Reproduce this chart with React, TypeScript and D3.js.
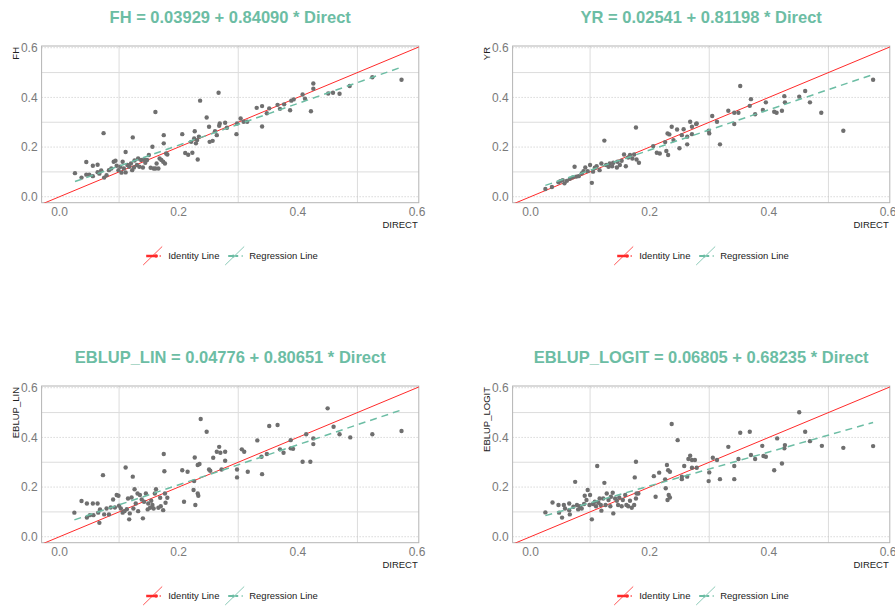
import React from 'react';
import * as d3 from 'd3';

// Direct vs model estimates
const fhPoints: [number, number][] = [
  [0.026, 0.095], [0.037, 0.077], [0.045, 0.140], [0.045, 0.089], [0.050, 0.089], [0.056, 0.125],
  [0.056, 0.083], [0.064, 0.129], [0.064, 0.099], [0.067, 0.093], [0.070, 0.106], [0.074, 0.256],
  [0.075, 0.077], [0.079, 0.087], [0.083, 0.107], [0.087, 0.114], [0.091, 0.141], [0.094, 0.145],
  [0.096, 0.125], [0.099, 0.107], [0.102, 0.121], [0.104, 0.097], [0.106, 0.141], [0.108, 0.114],
  [0.111, 0.180], [0.111, 0.098], [0.114, 0.128], [0.117, 0.121], [0.120, 0.134], [0.122, 0.107],
  [0.123, 0.239], [0.125, 0.118], [0.126, 0.146], [0.130, 0.128], [0.132, 0.154], [0.134, 0.121],
  [0.137, 0.148], [0.140, 0.118], [0.142, 0.150], [0.144, 0.137], [0.147, 0.148], [0.150, 0.168],
  [0.153, 0.117], [0.156, 0.201], [0.158, 0.114], [0.161, 0.341], [0.161, 0.114], [0.163, 0.134],
  [0.166, 0.114], [0.168, 0.154], [0.171, 0.148], [0.174, 0.141], [0.175, 0.248], [0.175, 0.215],
  [0.177, 0.134], [0.179, 0.174], [0.181, 0.170], [0.206, 0.252], [0.211, 0.176], [0.216, 0.169],
  [0.221, 0.221], [0.223, 0.177], [0.226, 0.235], [0.227, 0.264], [0.229, 0.215], [0.231, 0.228],
  [0.232, 0.150], [0.234, 0.242], [0.236, 0.387], [0.247, 0.319], [0.251, 0.282], [0.252, 0.221],
  [0.257, 0.225], [0.261, 0.264], [0.264, 0.248], [0.267, 0.419], [0.268, 0.286], [0.269, 0.295],
  [0.278, 0.298], [0.281, 0.278], [0.297, 0.252], [0.298, 0.295], [0.304, 0.315], [0.309, 0.302],
  [0.315, 0.302], [0.331, 0.358], [0.340, 0.365], [0.340, 0.283], [0.348, 0.336], [0.352, 0.356],
  [0.366, 0.370], [0.370, 0.354], [0.377, 0.372], [0.387, 0.348], [0.389, 0.387], [0.393, 0.392],
  [0.408, 0.412], [0.412, 0.395], [0.422, 0.344], [0.426, 0.456], [0.426, 0.435], [0.451, 0.416],
  [0.459, 0.419], [0.470, 0.415], [0.487, 0.446], [0.525, 0.481], [0.574, 0.471],
];

const yrPoints: [number, number][] = [
  [0.025, 0.031], [0.036, 0.039], [0.047, 0.058], [0.050, 0.063], [0.054, 0.067], [0.057, 0.054],
  [0.061, 0.064], [0.066, 0.072], [0.071, 0.078], [0.074, 0.121], [0.077, 0.081], [0.081, 0.083],
  [0.086, 0.094], [0.089, 0.103], [0.092, 0.118], [0.096, 0.103], [0.100, 0.128], [0.103, 0.056],
  [0.105, 0.101], [0.108, 0.117], [0.111, 0.123], [0.116, 0.107], [0.119, 0.134], [0.124, 0.226],
  [0.127, 0.128], [0.131, 0.121], [0.133, 0.134], [0.137, 0.123], [0.139, 0.137], [0.145, 0.118],
  [0.146, 0.141], [0.150, 0.128], [0.153, 0.145], [0.157, 0.170], [0.160, 0.123], [0.164, 0.158],
  [0.167, 0.168], [0.171, 0.154], [0.174, 0.170], [0.177, 0.279], [0.178, 0.150], [0.182, 0.137],
  [0.206, 0.204], [0.212, 0.177], [0.217, 0.174], [0.226, 0.220], [0.228, 0.184], [0.231, 0.168],
  [0.230, 0.255], [0.233, 0.251], [0.237, 0.282], [0.240, 0.228], [0.246, 0.271], [0.250, 0.195],
  [0.254, 0.248], [0.257, 0.272], [0.263, 0.242], [0.263, 0.211], [0.268, 0.302], [0.271, 0.282],
  [0.271, 0.252], [0.278, 0.293], [0.279, 0.295], [0.299, 0.266], [0.300, 0.255], [0.305, 0.325],
  [0.313, 0.302], [0.318, 0.211], [0.332, 0.346], [0.342, 0.338], [0.342, 0.293], [0.349, 0.338],
  [0.352, 0.446], [0.368, 0.366], [0.370, 0.393], [0.377, 0.332], [0.390, 0.349], [0.395, 0.380],
  [0.409, 0.342], [0.413, 0.338], [0.422, 0.346], [0.426, 0.405], [0.427, 0.380], [0.451, 0.403],
  [0.461, 0.426], [0.469, 0.380], [0.488, 0.338], [0.525, 0.266], [0.575, 0.471],
];

const linPoints: [number, number][] = [
  [0.025, 0.097], [0.037, 0.144], [0.046, 0.134], [0.046, 0.077], [0.051, 0.087], [0.056, 0.134],
  [0.057, 0.087], [0.064, 0.134], [0.065, 0.097], [0.067, 0.056], [0.068, 0.110], [0.073, 0.248],
  [0.075, 0.090], [0.079, 0.114], [0.083, 0.090], [0.086, 0.118], [0.090, 0.150], [0.093, 0.118],
  [0.096, 0.168], [0.099, 0.165], [0.100, 0.125], [0.103, 0.114], [0.106, 0.097], [0.109, 0.103],
  [0.111, 0.279], [0.113, 0.111], [0.115, 0.154], [0.117, 0.070], [0.118, 0.094], [0.121, 0.158],
  [0.123, 0.242], [0.124, 0.114], [0.126, 0.191], [0.128, 0.134], [0.131, 0.174], [0.132, 0.103],
  [0.135, 0.168], [0.138, 0.150], [0.140, 0.074], [0.142, 0.141], [0.145, 0.174], [0.148, 0.110],
  [0.149, 0.134], [0.152, 0.117], [0.154, 0.145], [0.156, 0.128], [0.158, 0.114], [0.160, 0.174],
  [0.162, 0.191], [0.166, 0.117], [0.169, 0.157], [0.170, 0.123], [0.174, 0.107], [0.175, 0.333],
  [0.176, 0.264], [0.177, 0.174], [0.178, 0.137], [0.181, 0.157], [0.206, 0.268], [0.209, 0.141],
  [0.215, 0.262], [0.225, 0.188], [0.226, 0.224], [0.227, 0.319], [0.228, 0.128], [0.232, 0.174],
  [0.233, 0.165], [0.232, 0.289], [0.235, 0.293], [0.237, 0.474], [0.247, 0.423], [0.251, 0.271],
  [0.253, 0.266], [0.258, 0.318], [0.264, 0.342], [0.268, 0.362], [0.270, 0.338], [0.272, 0.271],
  [0.278, 0.342], [0.278, 0.306], [0.298, 0.271], [0.298, 0.239], [0.306, 0.352], [0.310, 0.342],
  [0.316, 0.262], [0.332, 0.388], [0.339, 0.322], [0.340, 0.252], [0.348, 0.333], [0.352, 0.446],
  [0.366, 0.450], [0.370, 0.352], [0.376, 0.338], [0.388, 0.389], [0.388, 0.356], [0.392, 0.354],
  [0.408, 0.302], [0.414, 0.413], [0.421, 0.302], [0.426, 0.396], [0.426, 0.373], [0.450, 0.517],
  [0.460, 0.443], [0.470, 0.413], [0.488, 0.400], [0.525, 0.413], [0.574, 0.426],
];

const logitPoints: [number, number][] = [
  [0.025, 0.098], [0.037, 0.138], [0.047, 0.128], [0.048, 0.097], [0.053, 0.077], [0.056, 0.128],
  [0.058, 0.114], [0.065, 0.134], [0.065, 0.107], [0.066, 0.090], [0.072, 0.121], [0.075, 0.221],
  [0.078, 0.128], [0.080, 0.110], [0.083, 0.123], [0.086, 0.114], [0.090, 0.132], [0.091, 0.165],
  [0.094, 0.148], [0.096, 0.188], [0.099, 0.128], [0.100, 0.168], [0.103, 0.070], [0.105, 0.132],
  [0.108, 0.141], [0.110, 0.123], [0.112, 0.285], [0.114, 0.137], [0.116, 0.154], [0.118, 0.128],
  [0.119, 0.105], [0.122, 0.154], [0.124, 0.217], [0.126, 0.128], [0.128, 0.174], [0.131, 0.148],
  [0.134, 0.123], [0.135, 0.161], [0.138, 0.177], [0.139, 0.094], [0.142, 0.154], [0.145, 0.145],
  [0.147, 0.128], [0.149, 0.158], [0.153, 0.123], [0.155, 0.148], [0.159, 0.168], [0.161, 0.128],
  [0.164, 0.123], [0.167, 0.145], [0.170, 0.117], [0.174, 0.128], [0.175, 0.239], [0.177, 0.302],
  [0.177, 0.154], [0.178, 0.174], [0.181, 0.174], [0.207, 0.244], [0.210, 0.161], [0.216, 0.258],
  [0.226, 0.231], [0.227, 0.195], [0.229, 0.289], [0.230, 0.148], [0.231, 0.268], [0.232, 0.168],
  [0.234, 0.262], [0.234, 0.158], [0.237, 0.454], [0.247, 0.389], [0.254, 0.242], [0.254, 0.232],
  [0.258, 0.285], [0.263, 0.242], [0.265, 0.313], [0.268, 0.326], [0.271, 0.278], [0.271, 0.309],
  [0.276, 0.309], [0.279, 0.278], [0.299, 0.224], [0.300, 0.259], [0.306, 0.318], [0.313, 0.309],
  [0.318, 0.232], [0.332, 0.362], [0.342, 0.285], [0.342, 0.232], [0.349, 0.313], [0.352, 0.419],
  [0.368, 0.423], [0.370, 0.329], [0.377, 0.313], [0.389, 0.366], [0.391, 0.325], [0.395, 0.322],
  [0.409, 0.268], [0.414, 0.396], [0.422, 0.295], [0.426, 0.356], [0.427, 0.369], [0.451, 0.501],
  [0.461, 0.423], [0.469, 0.385], [0.489, 0.366], [0.525, 0.358], [0.575, 0.365],
];

const modelNames = ['FH', 'YR', 'EBLUP_LIN', 'EBLUP_LOGIT'];
const intercepts = [0.03929, 0.02541, 0.04776, 0.06805];
const slopes = [0.8409, 0.81198, 0.80651, 0.68235];
const allPoints = [fhPoints, yrPoints, linPoints, logitPoints];

const tickValues = [0, 0.2, 0.4, 0.6];
const gridValues = [0.1, 0.3, 0.5];

const TEAL = '#6cbda4';
const RED = '#ff2a2a';
const FONT = '"Liberation Sans", Arial, sans-serif';

const W = 895;
const H = 606;

function Panel({ idx }: { idx: number }) {
  const col = idx % 2;
  const row = Math.floor(idx / 2);
  const ox = col * 471;
  const oy = row * 340;
  const left = 41.6 + ox;
  const right = 418.8 + ox;
  const top = 46 + oy;
  const bottom = 202.7 + oy;

  const x = d3.scaleLinear().domain([-0.03, 0.603]).range([left, right]);
  const y = d3.scaleLinear().domain([-0.024, 0.607]).range([bottom, top]);

  const pts = allPoints[idx];
  const a = intercepts[idx];
  const b = slopes[idx];
  const xs = d3.extent(pts, (d) => d[0]) as [number, number];
  const fmt = d3.format('.1f');
  const line = d3.line<number>().x((d) => x(d)).y((d) => y(a + b * d));
  const idLine = d3.line<number>().x((d) => x(d)).y((d) => y(d));
  const cx = (left + right) / 2;
  const clipId = `clip${idx}`;
  const ly = 256 + oy;

  return (
    <g>
      <defs>
        <clipPath id={clipId}>
          <rect x={left} y={top} width={right - left} height={bottom - top} />
        </clipPath>
      </defs>
      <text x={cx} y={23 + oy} textAnchor="middle" fontSize={16.5} fontWeight="bold" fill={TEAL} fontFamily={FONT}>
        {`${modelNames[idx]} = ${a.toFixed(5)} + ${b.toFixed(5)} * Direct`}
      </text>
      <rect x={left} y={top} width={right - left} height={bottom - top} fill="#fff" />
      {gridValues.map((g) => (
        <g key={`g${g}`}>
          <line x1={x(g)} x2={x(g)} y1={top} y2={bottom} stroke="#dcdcdc" strokeWidth={1} />
          <line x1={left} x2={right} y1={y(g)} y2={y(g)} stroke="#dcdcdc" strokeWidth={1} />
        </g>
      ))}
      {tickValues.map((t) => (
        <line key={`d${t}`} x1={left} x2={right} y1={y(t)} y2={y(t)} stroke="#c4c4c4" strokeWidth={1} strokeDasharray="1,2" />
      ))}
      <rect x={left} y={top} width={right - left} height={bottom - top} fill="none" stroke="#b4b4b4" strokeWidth={1} />
      <g clipPath={`url(#${clipId})`}>
        <path d={idLine([-0.03, 0.61]) || ''} stroke={RED} strokeWidth={1} fill="none" />
      </g>
      {pts.map((d, i) => (
        <circle key={i} cx={x(d[0])} cy={y(d[1])} r={2.2} fill="#6f6f6f" />
      ))}
      <path d={line(xs) || ''} stroke={TEAL} strokeWidth={1.5} strokeDasharray="7,5" fill="none" />
      {tickValues.map((t) => (
        <text key={`xt${t}`} x={x(t)} y={216 + oy} textAnchor="middle" fontSize={12} fill="#7a7a7a" fontFamily={FONT}>
          {fmt(t)}
        </text>
      ))}
      {tickValues.map((t) => (
        <text key={`yt${t}`} x={left - 4} y={y(t) + 4.3} textAnchor="end" fontSize={12} fill="#7a7a7a" fontFamily={FONT}>
          {fmt(t)}
        </text>
      ))}
      <text transform={`translate(${18.5 + ox},${top + 1}) rotate(-90)`} textAnchor="end" fontSize={9.5} fill="#222" fontFamily={FONT}>
        {modelNames[idx]}
      </text>
      <text x={right - 1} y={228 + oy} textAnchor="end" fontSize={9.5} fill="#222" fontFamily={FONT}>
        DIRECT
      </text>
      {/* legend */}
      <g transform={`translate(${cx - 87},${ly})`}>
        <line x1={0} y1={9} x2={19} y2={-9.5} stroke={RED} strokeWidth={0.8} />
        <line x1={3} y1={0} x2={13} y2={0} stroke={RED} strokeWidth={2.5} />
        <circle cx={13} cy={0} r={1.8} fill={RED} />
        <circle cx={17} cy={0} r={0.8} fill={RED} />
        <text x={25} y={3.3} fontSize={9.5} fill="#222" fontFamily={FONT}>Identity Line</text>
        <line x1={82} y1={9} x2={101} y2={-9.5} stroke={TEAL} strokeWidth={0.8} />
        <line x1={85} y1={0} x2={95} y2={0} stroke={TEAL} strokeWidth={2} strokeDasharray="5,2" />
        <circle cx={90} cy={0} r={1.6} fill={TEAL} />
        <circle cx={99} cy={0} r={0.8} fill={TEAL} />
        <text x={106} y={3.3} fontSize={9.5} fill="#222" fontFamily={FONT}>Regression Line</text>
      </g>
    </g>
  );
}

export default function App() {
  return (
    <svg width={W} height={H} style={{ position: 'absolute', left: 0, top: 0, background: '#fff' }}>
      {[0, 1, 2, 3].map((i) => (
        <Panel key={i} idx={i} />
      ))}
    </svg>
  );
}
